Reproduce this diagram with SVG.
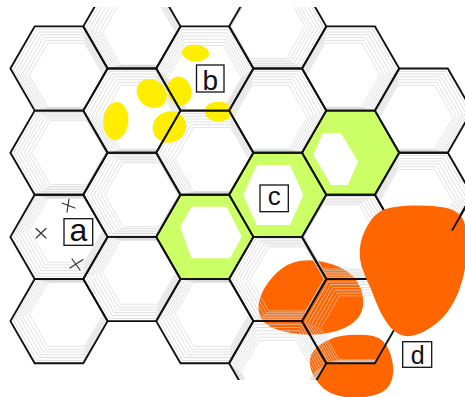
<svg xmlns="http://www.w3.org/2000/svg" xmlns:xlink="http://www.w3.org/1999/xlink" width="465" height="397" viewBox="0 0 465 397">
<style>
.grid use{fill:none;stroke:#111;stroke-width:1.9;stroke-linejoin:miter}
.edge{fill:none;stroke:#111;stroke-width:1.9}
.ghost use{fill:none;stroke:#d2d2d2;stroke-width:0.8}
.green{fill:#ccff66}
.inner{fill:#fff}
.yel{fill:#ffee00}
.org{fill:#ff6600}
.box{fill:#fff;stroke:#111;stroke-width:1.3}
.lbl{font-family:"Liberation Sans",Arial,sans-serif;fill:#111;text-anchor:middle}
.cross{stroke:#333;stroke-width:1.2;fill:none;stroke-linecap:round}
</style>
<defs>
<path id="hx" d="M-48.6,0 L-24.3,-42.1 L24.3,-42.1 L48.6,0 L24.3,42.1 L-24.3,42.1 Z"/>
<clipPath id="clip"><rect x="0" y="7" width="465" height="373"/></clipPath>
<g id="gA"><use xlink:href="#hx" transform="translate(1.2,1.12) scale(.96)"/><use xlink:href="#hx" transform="translate(2.4,2.24) scale(.92)"/><use xlink:href="#hx" transform="translate(3.6,3.36) scale(.88)"/><use xlink:href="#hx" transform="translate(4.8,4.48) scale(.84)"/><use xlink:href="#hx" transform="translate(6,5.6) scale(.80)"/><use xlink:href="#hx" transform="translate(7.2,6.72) scale(.76)"/></g>
<g id="gB"><use xlink:href="#hx" transform="translate(1.6,0) scale(.96)"/><use xlink:href="#hx" transform="translate(3.2,0) scale(.92)"/><use xlink:href="#hx" transform="translate(4.8,0) scale(.88)"/><use xlink:href="#hx" transform="translate(6.4,0) scale(.84)"/><use xlink:href="#hx" transform="translate(8,0) scale(.80)"/><use xlink:href="#hx" transform="translate(9.6,0) scale(.76)"/></g>
<g id="gC"><use xlink:href="#hx" transform="translate(1.2,-1.12) scale(.96)"/><use xlink:href="#hx" transform="translate(2.4,-2.24) scale(.92)"/><use xlink:href="#hx" transform="translate(3.6,-3.36) scale(.88)"/><use xlink:href="#hx" transform="translate(4.8,-4.48) scale(.84)"/><use xlink:href="#hx" transform="translate(6,-5.6) scale(.80)"/><use xlink:href="#hx" transform="translate(7.2,-6.72) scale(.76)"/></g>
<g id="gD"><use xlink:href="#hx" transform="translate(-1.2,1.12) scale(.96)"/><use xlink:href="#hx" transform="translate(-2.4,2.24) scale(.92)"/><use xlink:href="#hx" transform="translate(-3.6,3.36) scale(.88)"/><use xlink:href="#hx" transform="translate(-4.8,4.48) scale(.84)"/><use xlink:href="#hx" transform="translate(-6,5.6) scale(.80)"/><use xlink:href="#hx" transform="translate(-7.2,6.72) scale(.76)"/></g>
<g id="gE"><use xlink:href="#hx" transform="translate(-1.6,0) scale(.96)"/><use xlink:href="#hx" transform="translate(-3.2,0) scale(.92)"/><use xlink:href="#hx" transform="translate(-4.8,0) scale(.88)"/><use xlink:href="#hx" transform="translate(-6.4,0) scale(.84)"/><use xlink:href="#hx" transform="translate(-8,0) scale(.80)"/><use xlink:href="#hx" transform="translate(-9.6,0) scale(.76)"/></g>
<g id="gG"><use xlink:href="#hx" transform="translate(0,1.52) scale(.96)"/><use xlink:href="#hx" transform="translate(0,3.04) scale(.92)"/><use xlink:href="#hx" transform="translate(0,4.56) scale(.88)"/><use xlink:href="#hx" transform="translate(0,6.08) scale(.84)"/><use xlink:href="#hx" transform="translate(0,7.6) scale(.80)"/><use xlink:href="#hx" transform="translate(0,9.12) scale(.76)"/></g>
</defs>
<rect width="465" height="397" fill="#fff"/>

<g id="green-cells">
<use xlink:href="#hx" class="green" x="204.8" y="236.9"/>
<use xlink:href="#hx" class="green" x="277.7" y="194.8"/>
<use xlink:href="#hx" class="green" x="350.6" y="152.7"/>
<polygon class="inner" points="191.7,206.7 226.7,206.7 241.7,236.7 230,258.3 191.7,258.3 180,226.7"/>
<polygon class="inner" points="256.7,165 290,165 303.3,195 290,225 256.7,225 243.3,195"/>
<polygon class="inner" points="322.5,133.3 341,133.3 358.2,161.7 347.7,185 331,185 313.5,155"/>
</g>

<g id="orange-low">
<path class="org" d="M277,272.5 Q287,263 299.5,261 Q312,259 326,262.5 Q340,266 348.5,272.5 Q357,279 360.5,288 Q364,297 363,306 Q362,315 354,322 Q346,329 330.5,332.5 Q315,336 298,334 Q281,332 271,327 Q261,322 259,313 Q257,304 262,293 Q267,282 277,272.5 Z"/>
<path class="org" d="M320.5,344.5 Q330,338 341,336 Q352,334 366.5,335 Q381,336 386.5,345.5 Q392,355 393,366 Q394,377 389.5,385 Q385,393 371,396 Q357,399 344.5,397 Q332,395 325,389.5 Q318,384 313.5,375.5 Q309,367 310,359 Q311,351 320.5,344.5 Z"/>
</g>

<g id="ghosts" class="ghost" clip-path="url(#clip)">
<use xlink:href="#gA" x="59" y="68.5"/>
<use xlink:href="#gB" x="59" y="152.7"/>
<use xlink:href="#gC" x="59" y="236.9"/>
<use xlink:href="#gC" x="59" y="321.1"/>
<use xlink:href="#gA" x="131.9" y="26.4"/>
<use xlink:href="#gA" x="131.9" y="110.6"/>
<use xlink:href="#gB" x="131.9" y="194.8"/>
<use xlink:href="#gC" x="131.9" y="279"/>
<use xlink:href="#gG" x="204.8" y="68.5"/>
<use xlink:href="#gA" x="204.8" y="152.7"/>
<use xlink:href="#gC" x="204.8" y="321.1"/>
<use xlink:href="#gE" x="277.7" y="26.4"/>
<use xlink:href="#gD" x="277.7" y="110.6"/>
<use xlink:href="#gB" x="277.7" y="279"/>
<use xlink:href="#gG" x="277.7" y="363.2"/>
<use xlink:href="#gD" x="350.6" y="68.5"/>
<use xlink:href="#gE" x="350.6" y="236.9"/>
<use xlink:href="#gA" x="350.6" y="321.1"/>
<use xlink:href="#gD" x="423.5" y="110.6"/>
<use xlink:href="#gD" x="423.5" y="194.8"/>
</g>

<g id="yellow-marks">
<ellipse class="yel" cx="195.5" cy="53" rx="13.5" ry="8.5" transform="rotate(3 195.5 53)"/>
<ellipse class="yel" cx="151.7" cy="93.5" rx="16" ry="13.5" transform="rotate(40 151.7 93.5)"/>
<ellipse class="yel" cx="179.5" cy="91" rx="12" ry="14.5" transform="rotate(-15 179.5 91)"/>
<ellipse class="yel" cx="115.8" cy="121" rx="12.5" ry="19" transform="rotate(5 115.8 121)"/>
<ellipse class="yel" cx="169.5" cy="127" rx="17" ry="15.5" transform="rotate(-20 169.5 127)"/>
<ellipse class="yel" cx="218.5" cy="111.5" rx="14" ry="10"/>
</g>

<g id="grid" class="grid" clip-path="url(#clip)">
<use xlink:href="#hx" x="59" y="68.5"/>
<use xlink:href="#hx" x="59" y="152.7"/>
<use xlink:href="#hx" x="59" y="236.9"/>
<use xlink:href="#hx" x="59" y="321.1"/>
<use xlink:href="#hx" x="131.9" y="26.4"/>
<use xlink:href="#hx" x="131.9" y="110.6"/>
<use xlink:href="#hx" x="131.9" y="194.8"/>
<use xlink:href="#hx" x="131.9" y="279"/>
<use xlink:href="#hx" x="204.8" y="68.5"/>
<use xlink:href="#hx" x="204.8" y="152.7"/>
<use xlink:href="#hx" x="204.8" y="236.9"/>
<use xlink:href="#hx" x="204.8" y="321.1"/>
<use xlink:href="#hx" x="277.7" y="26.4"/>
<use xlink:href="#hx" x="277.7" y="110.6"/>
<use xlink:href="#hx" x="277.7" y="194.8"/>
<use xlink:href="#hx" x="277.7" y="279"/>
<use xlink:href="#hx" x="277.7" y="363.2"/>
<use xlink:href="#hx" x="350.6" y="68.5"/>
<use xlink:href="#hx" x="350.6" y="152.7"/>
<use xlink:href="#hx" x="350.6" y="236.9"/>
<use xlink:href="#hx" x="350.6" y="321.1"/>
<use xlink:href="#hx" x="423.5" y="110.6"/>
<use xlink:href="#hx" x="423.5" y="194.8"/>
</g>

<g id="orange-big">
<path class="org" d="M367.5,225.5 Q374,214 383,210 Q392,206 412,205.5 Q432,205 444.5,207.5 Q457,210 462,217.5 Q467,225 467,245 Q467,265 461.5,283 Q456,301 447,312.5 Q438,324 425,331 Q412,338 403,335.5 Q394,333 387,323 Q380,313 376,302 Q372,291 368,282.5 Q364,274 361.5,266 Q359,258 360,247.5 Q361,237 367.5,225.5 Z"/>
</g>

<g id="grid-over">
<path class="edge" d="M452,230.6 L472.6,194.8"/>
</g>

<g id="crosses">
<path class="cross" d="M62,203 L75,208 M69,199 L67,212"/>
<path class="cross" d="M36,228.5 L46,238 M46,228.5 L36,238"/>
<path class="cross" d="M70,268 L83,259.5 M72,259 L80,270"/>
</g>

<g id="label-a"><rect class="box" x="64" y="218.7" width="28.7" height="26.6"/><text class="lbl" x="78.4" y="240.5" font-size="32">a</text></g>
<g id="label-b"><rect class="box" x="196.5" y="65" width="27.5" height="27"/><text class="lbl" x="210.3" y="90" font-size="28">b</text></g>
<g id="label-c"><rect class="box" x="260" y="185" width="28.3" height="26.7"/><text class="lbl" x="274.2" y="205" font-size="26">c</text></g>
<g id="label-d"><rect class="box" x="402.7" y="341.7" width="29" height="25.6"/><text class="lbl" x="417.6" y="364" font-size="25">d</text></g>
</svg>
